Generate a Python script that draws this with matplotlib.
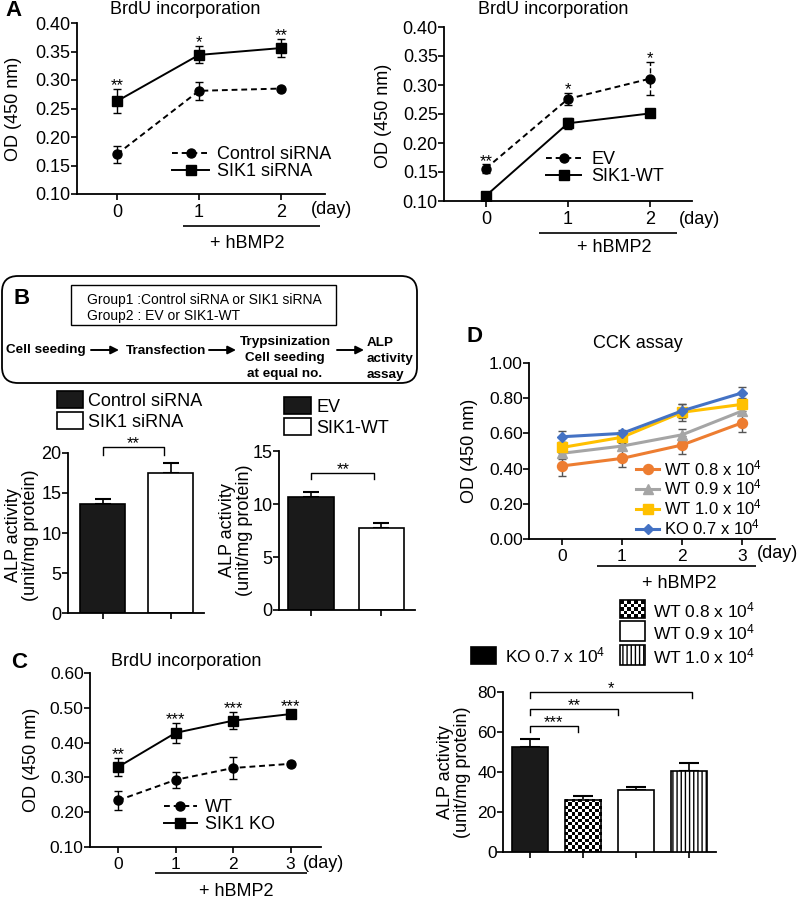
import numpy as np
import matplotlib
matplotlib.use('Agg')
import matplotlib.pyplot as plt
from matplotlib.patches import FancyBboxPatch, Rectangle
from matplotlib.lines import Line2D

plt.rcParams['font.family'] = ['Liberation Sans', 'DejaVu Sans']
plt.rcParams['mathtext.fontset'] = 'custom'
plt.rcParams['mathtext.rm'] = 'Liberation Sans'
plt.rcParams['mathtext.default'] = 'regular'
plt.rcParams['axes.linewidth'] = 1.3
plt.rcParams['hatch.linewidth'] = 1.0

# ---------------- DATA ----------------
# Panel A (left): siRNA
a1_days = [0, 1, 2]
a1_ctrl = [0.170, 0.281, 0.285]
a1_ctrl_err = [0.015, 0.016, 0.003]
a1_sik = [0.263, 0.344, 0.356]
a1_sik_err = [0.021, 0.015, 0.016]
a1_stars = ['**', '*', '**']
a1_labels = ['Control siRNA', 'SIK1 siRNA']

# Panel A (right): overexpression
a2_days = [0, 1, 2]
a2_ev = [0.156, 0.276, 0.311]
a2_ev_err = [0.007, 0.010, 0.029]
a2_wt = [0.109, 0.234, 0.251]
a2_wt_err = [0.004, 0.009, 0.005]
a2_stars = ['**', '*', '*']
a2_labels = ['EV', 'SIK1-WT']

# Panel B: ALP activity
b1_labels = ['Control siRNA', 'SIK1 siRNA']
b1_vals = [13.6, 17.5]
b1_err = [0.6, 1.25]
b1_star = '**'
b2_labels = ['EV', 'SIK1-WT']
b2_vals = [10.7, 7.7]
b2_err = [0.45, 0.5]
b2_star = '**'

# Panel C: BrdU WT vs KO
c_days = [0, 1, 2, 3]
c_wt = [0.234, 0.293, 0.327, 0.339]
c_wt_err = [0.027, 0.023, 0.032, 0.006]
c_ko = [0.330, 0.428, 0.463, 0.482]
c_ko_err = [0.025, 0.028, 0.024, 0.012]
c_stars = ['**', '***', '***', '***']
c_labels = ['WT', 'SIK1 KO']

# Panel D: CCK assay
d_days = [0, 1, 2, 3]
d_labels = ['WT 0.8 x 10$^4$', 'WT 0.9 x 10$^4$', 'WT 1.0 x 10$^4$', 'KO 0.7 x 10$^4$']
d_wt08 = [0.415, 0.458, 0.534, 0.660]
d_wt08_err = [0.055, 0.050, 0.050, 0.050]
d_wt09 = [0.487, 0.528, 0.592, 0.727]
d_wt09_err = [0.030, 0.020, 0.033, 0.020]
d_wt10 = [0.520, 0.578, 0.720, 0.765]
d_wt10_err = [0.030, 0.025, 0.047, 0.035]
d_ko07 = [0.581, 0.600, 0.728, 0.830]
d_ko07_err = [0.030, 0.020, 0.040, 0.035]
d_colors = ['#ED7D31', '#A5A5A5', '#FFC000', '#4472C4']

# Panel D: ALP activity bars
d_bar_labels = ['KO 0.7 x 10$^4$', 'WT 0.8 x 10$^4$', 'WT 0.9 x 10$^4$', 'WT 1.0 x 10$^4$']
d_bar_vals = [52.5, 26.0, 31.0, 40.5]
d_bar_err = [4.0, 2.0, 1.5, 4.0]
d_bar_stars = ['***', '**', '*']

# ---------------- FIGURE ----------------
W, H = 799, 900
fig = plt.figure(figsize=(W / 100, H / 100), dpi=100)

def pax(x0, y0, x1, y1):
    return fig.add_axes([x0 / W, 1 - y1 / H, (x1 - x0) / W, (y1 - y0) / H])

ov = fig.add_axes([0, 0, 1, 1], zorder=10)
ov.axis('off')
ov.set_xlim(0, W)
ov.set_ylim(H, 0)

def style(ax, xlim, ylim, yticks, yfmt, xticks, xlabels, fs=13):
    ax.spines['top'].set_visible(False)
    ax.spines['right'].set_visible(False)
    ax.set_xlim(*xlim)
    ax.set_ylim(*ylim)
    ax.set_yticks(yticks)
    ax.set_yticklabels([yfmt.format(v) for v in yticks])
    ax.set_xticks(xticks)
    ax.set_xticklabels(xlabels)
    ax.tick_params(axis='both', direction='out', length=4, width=1.2, labelsize=fs)
    ax.tick_params(axis='y', pad=0.5)
    ax.tick_params(axis='x', pad=3)
    ax.patch.set_alpha(0)

def series(ax, x, y, e, marker, ms, ls, label, color='black', lw=1.4, ecolor=None, els=None):
    eb = ax.errorbar(x, y, yerr=e, fmt='none', ecolor=ecolor or color, elinewidth=1.0,
                     capsize=3, capthick=1.0, zorder=2)
    if els is not None:
        eb[2][0].set_linestyle(els)
    ln, = ax.plot(x, y, marker=marker, ms=ms, ls=ls, color=color, lw=lw, label=label, zorder=3)
    return ln

def stars(ax, xs, tops, labels, fs=12, dy=-3):
    for x, t, s in zip(xs, tops, labels):
        ax.annotate(s, xy=(x, t), xytext=(0, dy), textcoords='offset points',
                    ha='center', va='bottom', fontsize=fs, annotation_clip=False)

def otext(x, y, s, **kw):
    kw.setdefault('ha', 'center')
    kw.setdefault('va', 'center')
    ov.text(x, y, s, **kw)

def hline(x0, x1, y):
    ov.plot([x0, x1], [y, y], color='black', lw=1.2, solid_capstyle='butt')

dash = (0, (3, 2))

# ---------- Panel A left ----------
ax = pax(77, 23, 325, 194)
l1 = series(ax, a1_days, a1_ctrl, a1_ctrl_err, 'o', 6.5, dash, a1_labels[0])
l2 = series(ax, a1_days, a1_sik, a1_sik_err, 's', 7.2, '-', a1_labels[1])
style(ax, (-0.49, 2.54), (0.10, 0.40), np.arange(0.10, 0.401, 0.05), '{:.2f}', a1_days, [str(d) for d in a1_days])
tops = [max(a + b, c + d) for a, b, c, d in zip(a1_ctrl, a1_ctrl_err, a1_sik, a1_sik_err)]
stars(ax, a1_days, tops, a1_stars)
ax.legend([l1, l2], a1_labels, loc='upper left', bbox_to_anchor=(172, 146), bbox_transform=ov.transData,
          frameon=False, fontsize=13, handlelength=2.05, handletextpad=0.45, labelspacing=0.0,
          borderpad=0, borderaxespad=0)
otext(14, 11, 'A', fontsize=16, fontweight='bold')
otext(185, 10, 'BrdU incorporation', fontsize=13)
otext(14, 109, 'OD (450 nm)', fontsize=13, rotation=90)
otext(332, 209, '(day)', fontsize=13)
hline(183, 320, 226)
otext(247, 243, '+ hBMP2', fontsize=13)

# ---------- Panel A right ----------
ax = pax(444, 27, 692, 201)
l1 = series(ax, a2_days, a2_ev, a2_ev_err, 'o', 6.5, dash, a2_labels[0], els='--')
l2 = series(ax, a2_days, a2_wt, a2_wt_err, 's', 7.2, '-', a2_labels[1])
style(ax, (-0.51, 2.51), (0.10, 0.40), np.arange(0.10, 0.401, 0.05), '{:.2f}', a2_days, [str(d) for d in a2_days])
tops = [max(a + b, c + d) for a, b, c, d in zip(a2_ev, a2_ev_err, a2_wt, a2_wt_err)]
stars(ax, a2_days, tops, a2_stars)
ax.legend([l1, l2], a2_labels, loc='upper left', bbox_to_anchor=(546, 151), bbox_transform=ov.transData,
          frameon=False, fontsize=13, handlelength=1.95, handletextpad=0.55, labelspacing=0.0,
          borderpad=0, borderaxespad=0)
otext(553, 10, 'BrdU incorporation', fontsize=13)
otext(383, 116, 'OD (450 nm)', fontsize=13, rotation=90)
otext(699, 220, '(day)', fontsize=13)
hline(539, 677, 233)
otext(614, 248, '+ hBMP2', fontsize=13)

# ---------- Panel B scheme ----------
ov.add_patch(FancyBboxPatch((2, 276), 415, 107, boxstyle='round,pad=0,rounding_size=16',
                            fc='none', ec='black', lw=1.3))
ov.add_patch(Rectangle((71, 285), 265, 40, fc='none', ec='black', lw=1.0))
otext(22, 298, 'B', fontsize=16, fontweight='bold')
otext(87, 300, 'Group1 :Control siRNA or SIK1 siRNA', fontsize=10, ha='left')
otext(87, 316, 'Group2 : EV or SIK1-WT', fontsize=10, ha='left')
otext(6, 350, 'Cell seeding', fontsize=9.7, fontweight='bold', ha='left')
otext(126, 351, 'Transfection', fontsize=9.7, fontweight='bold', ha='left')
otext(285, 358, 'Trypsinization\nCell seeding\nat equal no.', fontsize=9.7, fontweight='bold',
      linespacing=1.4)
otext(367, 359, 'ALP\nactivity\nassay', fontsize=9.7, fontweight='bold', ha='left', linespacing=1.4)
for x0, x1 in [(91, 119), (209, 236), (337, 364)]:
    ov.annotate('', xy=(x1, 350), xytext=(x0, 350),
                arrowprops=dict(arrowstyle='-|>', lw=1.4, color='black', mutation_scale=12,
                                shrinkA=0, shrinkB=0))

# ---------- Panel B bars left ----------
ax = pax(68, 453, 204, 613)
bx = [0, 1]
bars = ax.bar(bx, b1_vals, width=0.67, color=['#1a1a1a', 'white'], edgecolor='black', lw=1.2, zorder=2)
ax.errorbar(bx, b1_vals, yerr=[[0, 0], b1_err], fmt='none', ecolor='black', elinewidth=1.2,
            capsize=6, capthick=1.5, zorder=1)
style(ax, (-0.51, 1.49), (0, 20), [0, 5, 10, 15, 20], '{:.0f}', bx, ['', ''], fs=13)
top = max(v + e for v, e in zip(b1_vals, b1_err))
ax.plot([0, 0, 0.9, 0.9], [top + 1.0, top + 2.0, top + 2.0, top + 1.0], color='black', lw=1.0, clip_on=False)
stars(ax, [0.45], [top + 2.0], [b1_star])
ax.legend(bars, b1_labels, loc='upper left', bbox_to_anchor=(57, 391), bbox_transform=ov.transData,
          frameon=False, fontsize=13, handlelength=1.45, handleheight=1.05, handletextpad=0.28,
          labelspacing=0.15, borderpad=0, borderaxespad=0)
otext(22, 535, 'ALP activity\n(unit/mg protein)', fontsize=13, rotation=90, linespacing=1.0)

# ---------- Panel B bars right ----------
ax = pax(279, 451, 415, 610)
bars = ax.bar(bx, b2_vals, width=0.65, color=['#1a1a1a', 'white'], edgecolor='black', lw=1.2, zorder=2)
ax.errorbar(bx, b2_vals, yerr=[[0, 0], b2_err], fmt='none', ecolor='black', elinewidth=1.2,
            capsize=6, capthick=1.5, zorder=1)
style(ax, (-0.46, 1.48), (0, 15), [0, 5, 10, 15], '{:.0f}', bx, ['', ''], fs=13)
top = max(v + e for v, e in zip(b2_vals, b2_err))
ax.plot([0, 0, 0.9, 0.9], [top + 1.25, top + 1.75, top + 1.75, top + 1.25], color='black', lw=1.0, clip_on=False)
stars(ax, [0.45], [top + 1.75], [b2_star])
ax.legend(bars, b2_labels, loc='upper left', bbox_to_anchor=(284, 397), bbox_transform=ov.transData,
          frameon=False, fontsize=13, handlelength=1.5, handleheight=1.05, handletextpad=0.28,
          labelspacing=0.15, borderpad=0, borderaxespad=0)
otext(236, 530, 'ALP activity\n(unit/mg protein)', fontsize=13, rotation=90, linespacing=1.0)

# ---------- Panel C ----------
ax = pax(90, 673, 321, 847)
l1 = series(ax, c_days, c_wt, c_wt_err, 'o', 6.5, dash, c_labels[0])
l2 = series(ax, c_days, c_ko, c_ko_err, 's', 6.8, '-', c_labels[1])
style(ax, (-0.49, 3.53), (0.10, 0.60), np.arange(0.10, 0.601, 0.10), '{:.2f}', c_days,
      [str(d) for d in c_days], fs=12.5)
tops = [max(a + b, c + d) for a, b, c, d in zip(c_wt, c_wt_err, c_ko, c_ko_err)]
stars(ax, c_days, tops, c_stars)
ax.legend([l1, l2], c_labels, loc='upper left', bbox_to_anchor=(164, 799), bbox_transform=ov.transData,
          frameon=False, fontsize=13, handlelength=1.8, handletextpad=0.45, labelspacing=0.0,
          borderpad=0, borderaxespad=0)
otext(19, 662, 'C', fontsize=16, fontweight='bold')
otext(186, 662, 'BrdU incorporation', fontsize=13)
otext(32, 760, 'OD (450 nm)', fontsize=13, rotation=90)
otext(323, 863, '(day)', fontsize=13)
hline(155, 307, 873)
otext(236, 891, '+ hBMP2', fontsize=13)

# ---------- Panel D lines ----------
ax = pax(529, 363, 775, 539)
d_series = [(d_wt08, d_wt08_err, 'o', 7.2), (d_wt09, d_wt09_err, '^', 7.0),
            (d_wt10, d_wt10_err, 's', 7.0), (d_ko07, d_ko07_err, 'D', 5.0)]
handles = []
for (vals, errs, mk, ms), col, lab in zip(d_series, d_colors, d_labels):
    handles.append(series(ax, d_days, vals, errs, mk, ms, '-', lab, color=col, lw=2.2, ecolor='#555555'))
style(ax, (-0.55, 3.55), (0.0, 1.0), np.arange(0.0, 1.001, 0.2), '{:.2f}', d_days,
      [str(d) for d in d_days], fs=12.5)
ax.legend(handles, d_labels, loc='upper left', bbox_to_anchor=(636, 458), bbox_transform=ov.transData,
          frameon=False, fontsize=12, handlelength=1.4, handletextpad=0.25, labelspacing=0.0,
          borderpad=0, borderaxespad=0)
otext(474, 337, 'D', fontsize=16, fontweight='bold')
otext(638, 344, 'CCK assay', fontsize=13)
otext(470, 451, 'OD (450 nm)', fontsize=13, rotation=90)
otext(778, 553, '(day)', fontsize=13)
hline(597, 756, 566)
otext(679, 584, '+ hBMP2', fontsize=13)

# ---------- Panel D bars ----------
ax = pax(503, 692, 716, 852)
dx = np.arange(len(d_bar_vals))
faces = ['#1a1a1a', 'none', 'white', 'white']
hatches = [None, None, None, '||||']
bars = ax.bar(dx, d_bar_vals, width=0.68, color=faces, edgecolor='black', lw=1.2, zorder=3)
for b, h in zip(bars, hatches):
    if h:
        b.set_hatch(h)
ax.errorbar(dx, d_bar_vals, yerr=[np.zeros(len(dx)), d_bar_err], fmt='none', ecolor='black',
            elinewidth=1.2, capsize=7, capthick=1.5, zorder=1)
# checkerboard fill for WT 0.8 bar
cb = bars[1]
nx, ny = 11, 16
checker = (np.add.outer(np.arange(ny), np.arange(nx)) % 2).astype(float)
ax.imshow(checker, cmap='gray', vmin=0, vmax=1, extent=[cb.get_x(), cb.get_x() + cb.get_width(), 0, cb.get_height()],
          aspect='auto', interpolation='nearest', zorder=2)
style(ax, (-0.51, 3.51), (0, 80), [0, 20, 40, 60, 80], '{:.0f}', dx, ['', '', '', ''], fs=12.5)
ax.set_aspect('auto')
for (xr, yb, s) in [(0.9, 63, d_bar_stars[0]), (1.66, 71.5, d_bar_stars[1]), (3.06, 80, d_bar_stars[2])]:
    ax.plot([0, 0, xr, xr], [yb - 3, yb, yb, yb - 3], color='black', lw=1.0, clip_on=False)
    stars(ax, [xr / 2], [yb], [s])
otext(454, 772, 'ALP activity\n(unit/mg protein)', fontsize=13, rotation=90, linespacing=1.0)

# manual legend for D bars
leg_items = [(471, 647, 25, 17, 'black', None, 505, 655),
             (620, 600, 25, 18, 'checker', None, 653, 610),
             (620, 621, 25, 20, 'white', None, 653, 632),
             (620, 645, 25, 20, 'white', '||||', 653, 656)]
for (x, y, w, h, fc, hat, tx, ty), lab in zip(leg_items, d_bar_labels):
    if fc == 'checker':
        pat = (np.add.outer(np.arange(5), np.arange(7)) % 2).astype(float)
        ov.imshow(pat, cmap='gray', vmin=0, vmax=1, extent=[x, x + w, y + h, y], aspect='auto',
                  interpolation='nearest', zorder=1)
        ov.add_patch(Rectangle((x, y), w, h, fc='none', ec='black', lw=1.2, zorder=2))
    else:
        ov.add_patch(Rectangle((x, y), w, h, fc=fc, ec='black', lw=1.2, hatch=hat, zorder=2))
    otext(tx, ty, lab, fontsize=12.5, ha='left')

ov.set_xlim(0, W)
ov.set_ylim(H, 0)
ov.set_aspect('auto')

fig.savefig('out.png', dpi=100)
